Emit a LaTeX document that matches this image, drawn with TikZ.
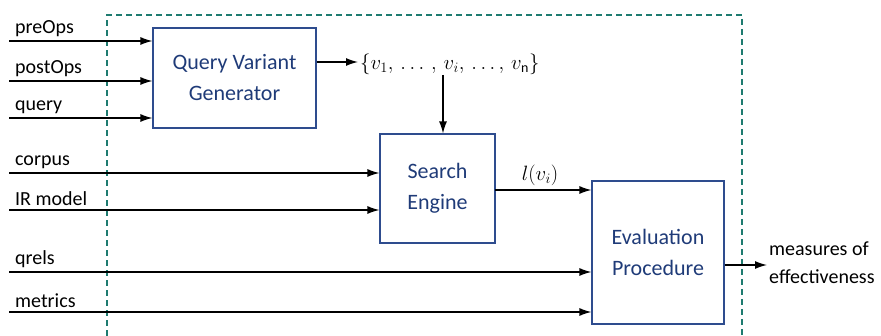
\documentclass[tikz,border=0pt]{standalone}
\usepackage{fontspec}
\setmainfont{Carlito}
\usetikzlibrary{arrows.meta}
\definecolor{boxblue}{HTML}{2E4C8E}
\definecolor{txtblue}{HTML}{1F3B78}
\definecolor{teal2}{HTML}{1E7B70}
\tikzset{
  blk/.style={draw=boxblue, line width=1.1pt, text=txtblue, align=center,
    font=\fontsize{22}{31}\selectfont, inner sep=0pt},
  lbl/.style={font=\fontsize{20}{22}\selectfont, anchor=south west, inner sep=0pt},
  arr/.style={-{Latex[length=12pt,width=8pt]}, line width=1.3pt},
}
\begin{document}
\begin{tikzpicture}[x=1pt,y=-1pt]
\useasboundingbox (0,0) rectangle (881,336);
\draw[teal2, line width=1.4pt, dash pattern=on 6pt off 4pt] (107,336) -- (107,15) -- (742,15) -- (742,336);
% boxes
\node[blk, minimum width=163pt, minimum height=100pt] (qvg) at (234.5,78) {Query Variant\\Generator};
\node[blk, minimum width=115pt, minimum height=109pt] (se) at (437.5,188.5) {Search\\Engine};
\node[blk, minimum width=132pt, minimum height=143pt] (ep) at (658,252.5) {Evaluation\\Procedure};
% inputs
\coordinate (i1) at (9,41);
\coordinate (i2) at (9,81);
\coordinate (i3) at (9,118);
\coordinate (i4) at (9,173);
\coordinate (i5) at (9,210);
\coordinate (i6) at (9,272);
\coordinate (i7) at (9,312);
\node[lbl] (l1) at (15,37) {preOps};
\node[lbl] (l2) at (15,77) {postOps};
\node[lbl] (l3) at (15,114) {query};
\node[lbl] (l4) at (15,169) {corpus};
\node[lbl] (l5) at (15,206) {IR model};
\node[lbl] (l6) at (15,268) {qrels};
\node[lbl] (l7) at (15,308) {metrics};
\draw[arr] (i1) -- (i1 -| qvg.west);
\draw[arr] (i2) -- (i2 -| qvg.west);
\draw[arr] (i3) -- (i3 -| qvg.west);
\draw[arr] (i4) -- (i4 -| se.west);
\draw[arr] (i5) -- (i5 -| se.west);
\draw[arr] (i6) -- (i6 -| ep.west);
\draw[arr] (i7) -- (i7 -| ep.west);
% variants
\node[anchor=west, inner sep=0pt, font=\fontsize{20}{22}\selectfont] (set) at (360,64)
  {$\{v_1,\,\ldots\,,\,v_i,\,\ldots,\,v_{\mathrm{n}}\}$};
\draw[arr] (qvg.east |- 0,62) -- (358,62);
\coordinate (vi) at (443,75);
\draw[arr] (vi) -- (vi |- se.north);
% l(vi)
\coordinate (lo) at (495,190);
\draw[arr] (lo) -- (lo -| ep.west);
\node[font=\fontsize{21}{22}\selectfont, inner sep=0pt] (lv) at (540,175) {$l(v_i)$};
% output
\node[anchor=west, align=left, inner sep=0pt, font=\fontsize{20}{28}\selectfont] (meas) at (769,263) {measures of\\effectiveness};
\draw[arr] (ep.east |- 0,265) -- (767,265);
\end{tikzpicture}
\end{document}
